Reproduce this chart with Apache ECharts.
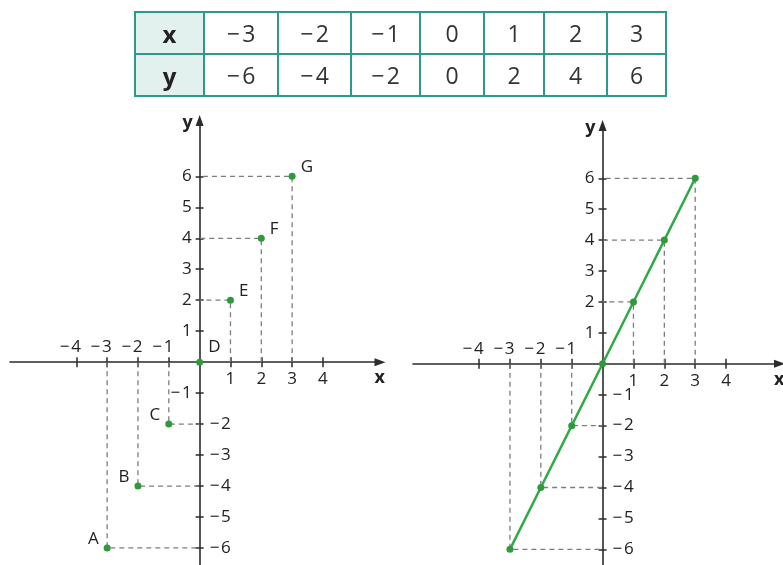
<!DOCTYPE html>
<html>
<head>
<meta charset="utf-8">
<script src="https://cdn.jsdelivr.net/npm/echarts@6/dist/echarts.min.js"></script>
<style>
  html, body { margin: 0; padding: 0; background: #fff; }
  #wrap { position: relative; width: 783px; height: 565px; overflow: hidden; }
  #chart { position: absolute; left: 0; top: 0; width: 783px; height: 565px; }
  #tbl {
    position: absolute; left: 134px; top: 11px; z-index: 2;
    border-collapse: collapse; table-layout: fixed; width: 531px;
    font-family: "Open Sans", sans-serif; font-size: 23px; color: #333;
  }
  #tbl td { border: 2px solid #2a9a8a; text-align: center; padding: 0; height: 40px; }
  #tbl td.head { background: #e2f0ee; font-weight: bold; font-size: 24px; color: #222; }
</style>
</head>
<body>
<div id="wrap">
  <table id="tbl"></table>
  <div id="chart"></div>
</div>
<script>
// values of y = 2x
var xValues = [-3, -2, -1, 0, 1, 2, 3];
var yValues = [-6, -4, -2, 0, 2, 4, 6];
var pointNames = ['A', 'B', 'C', 'D', 'E', 'F', 'G'];

// axis ticks / labels
var xTicks = [-4, -3, -2, -1, 1, 2, 3, 4];
var xLabelsBelow = [1, 2, 3, 4];
var xLabelsAbove = [-4, -3, -2, -1];
var yTicks = [-6, -5, -4, -3, -2, -1, 1, 2, 3, 4, 5, 6];
var yLabelsLeft1 = [1, 2, 3, 4, 5, 6, -1];
var yLabelsRight1 = [-2, -3, -4, -5, -6];
var yLabelsLeft2 = [1, 2, 3, 4, 5, 6];
var yLabelsRight2 = [-1, -2, -3, -4, -5, -6];

var colWidths = [69, 74, 73, 69, 64, 60, 63, 59];

// minus sign + hair space, like the book's typesetting
function fmt(v) { return v < 0 ? '\u2212\u200A' + Math.abs(v) : String(v); }

(function () {
  // table
  var tbl = document.getElementById('tbl');
  var cg = '<colgroup>';
  colWidths.forEach(function (w) { cg += '<col style="width:' + w + 'px">'; });
  cg += '</colgroup>';
  function row(head, vals) {
    var s = '<tr><td class="head">' + head + '</td>';
    vals.forEach(function (v) { s += '<td>' + fmt(v) + '</td>'; });
    return s + '</tr>';
  }
  tbl.innerHTML = cg + row('x', xValues) + row('y', yValues);
})();

var FONT = '"Open Sans", sans-serif';
var FS = 17;
var AXIS_COLOR = '#2b2b2b';
var TEXT_COLOR = '#222';
var DASH_COLOR = '#7d7d7d';

// two planes; axes go through 0, so offsets are worked out from the grid box
var planes = [
  { left: 10, top: 120.6, width: 370, height: 444.4, xMin: -6.15, xMax: 5.85, yMin: -6.55, yMax: 7.8,
    yLeft: yLabelsLeft1, yRight: yLabelsRight1 },
  { left: 413, top: 125.4, width: 366.5, height: 439.4, xMin: -6.14, xMax: 5.73, yMin: -6.5, yMax: 7.71,
    yLeft: yLabelsLeft2, yRight: yLabelsRight2 }
];

function xAxes(g, p) {
  var zeroY = p.top + p.yMax / (p.yMax - p.yMin) * p.height;
  var off = zeroY - (p.top + p.height);
  var base = {
    type: 'value', gridIndex: g, min: p.xMin, max: p.xMax, position: 'bottom', offset: off,
    splitLine: { show: false }
  };
  return [
    Object.assign({}, base, {
      axisLine: { onZero: false, symbol: ['none', 'triangle'], symbolSize: [8, 11],
        lineStyle: { color: AXIS_COLOR, width: 1.6 } },
      axisTick: { show: true, customValues: xTicks, length: 5, lineStyle: { color: AXIS_COLOR, width: 1.5 } },
      axisLabel: { customValues: xLabelsBelow, margin: 9, formatter: fmt,
        fontSize: FS, fontFamily: FONT, color: TEXT_COLOR },
      name: 'x', nameLocation: 'end', nameGap: 5,
      nameTextStyle: { fontSize: 18, fontWeight: 'bold', fontFamily: FONT, color: TEXT_COLOR,
        align: 'right', verticalAlign: 'top', padding: [7, 0, 0, 0] }
    }),
    Object.assign({}, base, {
      axisLine: { onZero: false, symbol: 'none', lineStyle: { color: AXIS_COLOR, width: 1.6, opacity: 0 } },
      axisTick: { show: true, inside: true, customValues: xTicks, length: 5, lineStyle: { color: AXIS_COLOR, width: 1.5 } },
      axisLabel: { inside: true, customValues: xLabelsAbove, margin: 6, formatter: fmt,
        padding: [0, 12, 0, 0],
        fontSize: FS, fontFamily: FONT, color: TEXT_COLOR }
    })
  ];
}

function yAxes(g, p) {
  var zeroX = p.left + (-p.xMin) / (p.xMax - p.xMin) * p.width;
  var off = p.left - zeroX;
  var base = {
    type: 'value', gridIndex: g, min: p.yMin, max: p.yMax, position: 'left', offset: off,
    splitLine: { show: false }
  };
  return [
    Object.assign({}, base, {
      axisLine: { onZero: false, symbol: ['none', 'triangle'], symbolSize: [8, 11],
        lineStyle: { color: AXIS_COLOR, width: 1.6 } },
      axisTick: { show: true, customValues: yTicks, length: 4, lineStyle: { color: AXIS_COLOR, width: 1.5 } },
      axisLabel: { customValues: p.yLeft, margin: 8, formatter: fmt, padding: [0, 0, 6, 0],
        fontSize: FS, fontFamily: FONT, color: TEXT_COLOR },
      name: 'y', nameLocation: 'end', nameGap: -11,
      nameTextStyle: { fontSize: 18, fontWeight: 'bold', fontFamily: FONT, color: TEXT_COLOR,
        align: 'right', verticalAlign: 'bottom', padding: [0, 7, 0, 0] }
    }),
    Object.assign({}, base, {
      axisLine: { onZero: false, symbol: 'none', lineStyle: { color: AXIS_COLOR, width: 1.6, opacity: 0 } },
      axisTick: { show: true, inside: true, customValues: yTicks, length: 4, lineStyle: { color: AXIS_COLOR, width: 1.5 } },
      axisLabel: { inside: true, customValues: p.yRight, margin: 10, formatter: fmt,
        fontSize: FS, fontFamily: FONT, color: TEXT_COLOR }
    })
  ];
}

// dashed guides: from x axis to the point, then across to the y axis
var guideData = [];
xValues.forEach(function (x, i) {
  if (x === 0 && yValues[i] === 0) return;
  guideData.push({ coords: [[x, 0], [x, yValues[i]], [0, yValues[i]]] });
});

var pointData = xValues.map(function (x, i) {
  return {
    name: pointNames[i],
    value: [x, yValues[i]],
    label: {
      position: x < 0 ? 'left' : 'right',
      offset: x === 0 ? [0, -15] : [0, -9]
    }
  };
});

var lineData = xValues.map(function (x, i) { return [x, yValues[i]]; });

var chart = echarts.init(document.getElementById('chart'), null, { renderer: 'canvas' });

var option = {
  animation: false,
  backgroundColor: '#fff',
  grid: planes.map(function (p) {
    return { left: p.left, top: p.top, width: p.width, height: p.height, containLabel: false, outerBoundsMode: 'none' };
  }),
  xAxis: xAxes(0, planes[0]).concat(xAxes(1, planes[1])),
  yAxis: yAxes(0, planes[0]).concat(yAxes(1, planes[1])),
  series: [
    {
      type: 'lines', coordinateSystem: 'cartesian2d', xAxisIndex: 0, yAxisIndex: 0,
      polyline: true, silent: true, z: 1,
      lineStyle: { color: DASH_COLOR, width: 1.3, type: [5, 4], opacity: 1 },
      data: guideData
    },
    {
      type: 'scatter', xAxisIndex: 0, yAxisIndex: 0, z: 5,
      symbol: 'circle', symbolSize: 7,
      itemStyle: { color: '#2f9a3c', opacity: 1 },
      label: {
        show: true, formatter: '{b}', distance: 5,
        fontSize: FS, fontFamily: FONT, color: TEXT_COLOR
      },
      data: pointData
    },
    {
      type: 'lines', coordinateSystem: 'cartesian2d', xAxisIndex: 2, yAxisIndex: 2,
      polyline: true, silent: true, z: 1,
      lineStyle: { color: DASH_COLOR, width: 1.3, type: [5, 4], opacity: 1 },
      data: guideData
    },
    {
      type: 'line', xAxisIndex: 2, yAxisIndex: 2, z: 5,
      symbol: 'circle', symbolSize: 7, showSymbol: true,
      lineStyle: { color: '#31a84a', width: 2.5 },
      itemStyle: { color: '#2f9a3c' },
      data: lineData
    }
  ]
};

chart.setOption(option);
</script>
</body>
</html>
